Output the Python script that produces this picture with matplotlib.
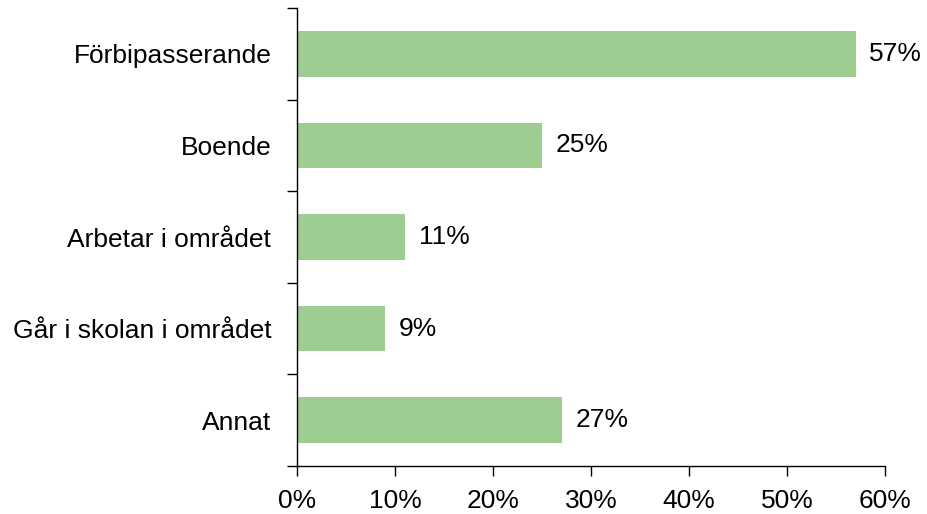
import matplotlib.pyplot as plt
import numpy as np

categories = ['Förbipasserande', 'Boende', 'Arbetar i området',
              'Går i skolan i området', 'Annat']
values = [57, 25, 11, 9, 27]
xticks = [0, 10, 20, 30, 40, 50, 60]

plt.rcParams['font.family'] = ['Liberation Sans', 'DejaVu Sans']
fs = 19

fig = plt.figure(figsize=(9.27, 5.14), dpi=100)
ax = fig.add_axes([0.3204, 0.0934, 0.6343, 0.891])

y = np.arange(len(categories))
ax.barh(y, values, height=0.5, color='#9dcd91')
for yi, v in zip(y, values):
    ax.text(v + 1.4, yi, f'{v}%', va='center', ha='left', fontsize=fs)

ax.set_ylim(len(categories) - 0.5, -0.5)
ax.set_xlim(0, 60)
ax.set_yticks(np.arange(-0.5, len(categories) + 0.5, 1))
ax.set_yticklabels([])
ax.set_yticks(y, minor=True)
ax.set_yticklabels(categories, minor=True, fontsize=fs)
ax.tick_params(axis='y', which='minor', length=0, pad=18.5)
ax.tick_params(axis='y', which='major', length=7, width=1)
ax.set_xticks(xticks)
ax.set_xticklabels([f'{t}%' for t in xticks], fontsize=fs)
ax.tick_params(axis='x', length=7, width=1, pad=9.5)

for s in ['top', 'right']:
    ax.spines[s].set_visible(False)
for s in ['left', 'bottom']:
    ax.spines[s].set_linewidth(1)

fig.savefig('out.png', dpi=100)
